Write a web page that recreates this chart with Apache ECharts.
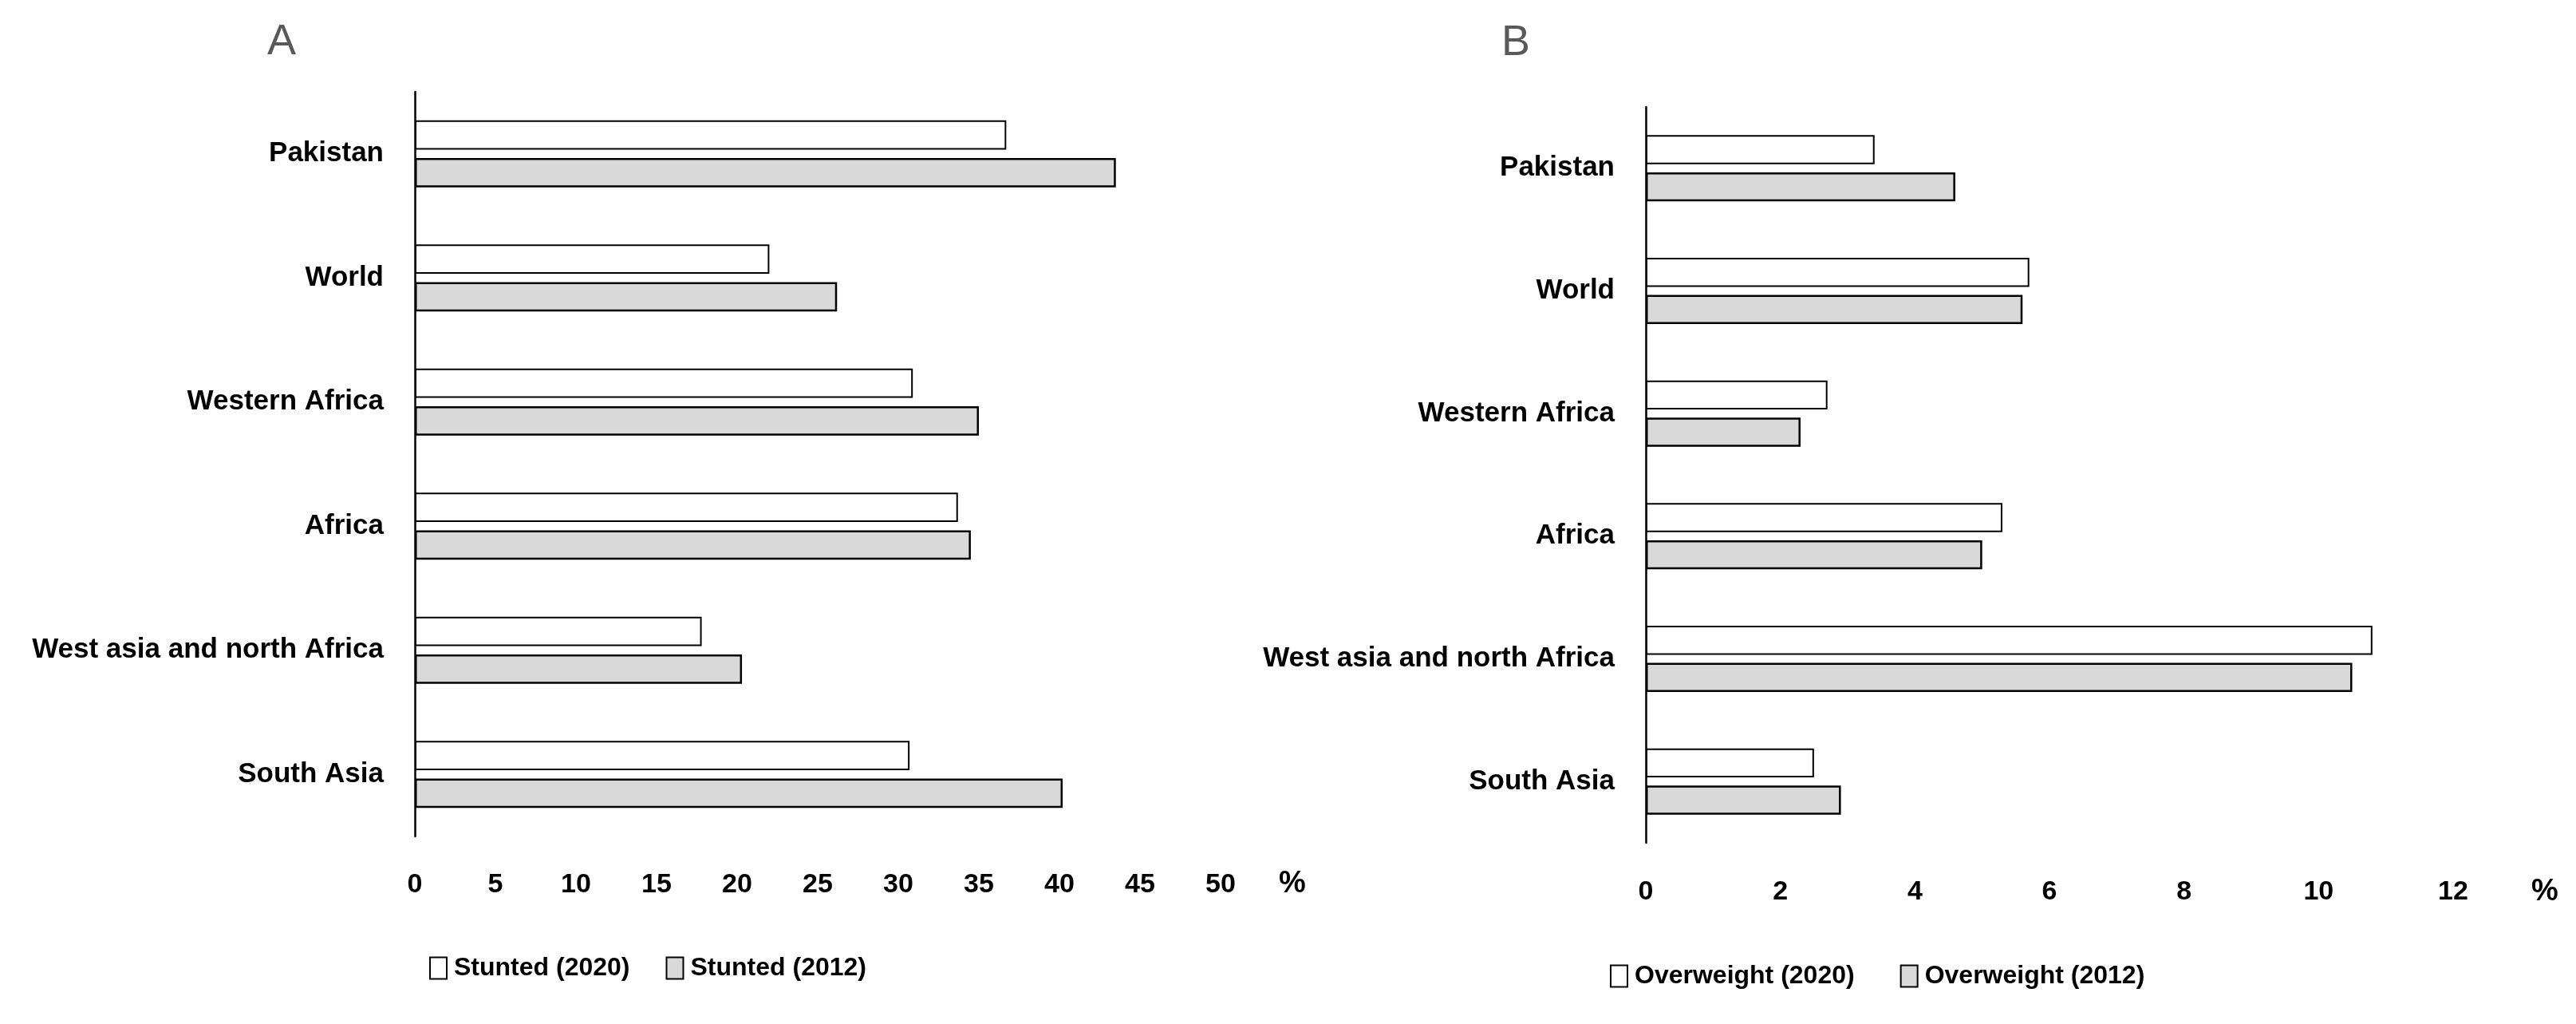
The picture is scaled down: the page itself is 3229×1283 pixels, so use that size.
<!DOCTYPE html>
<html>
<head>
<meta charset="utf-8">
<script src="https://cdn.jsdelivr.net/npm/echarts@6/dist/echarts.min.js"></script>
<style>
  html, body { margin: 0; padding: 0; background: #fff; }
  #chart { width: 3229px; height: 1283px; }
</style>
</head>
<body>
<div id="chart"></div>
<script>
const categories = ['Pakistan', 'World', 'Western Africa', 'Africa', 'West asia and north Africa', 'South Asia'];
const stunted2020 = [36.7, 22.0, 30.9, 33.7, 17.8, 30.7];
const stunted2012 = [43.5, 26.2, 35.0, 34.5, 20.3, 40.2];
const overweight2020 = [3.4, 5.7, 2.7, 5.3, 10.8, 2.5];
const overweight2012 = [4.6, 5.6, 2.3, 5.0, 10.5, 2.9];
const ticksA = [0, 5, 10, 15, 20, 25, 30, 35, 40, 45, 50];
const ticksB = [0, 2, 4, 6, 8, 10, 12];
const seriesNamesA = ['Stunted (2020)', 'Stunted (2012)'];
const seriesNamesB = ['Overweight (2020)', 'Overweight (2012)'];
const panelLabels = ['A', 'B'];
const unitLabel = '%';

const FONT = "'Liberation Sans', Arial, sans-serif";

const chart = echarts.init(document.getElementById('chart'), null, { renderer: 'canvas' });

const style2020 = { color: '#ffffff', borderColor: '#000000', borderWidth: 2 };
const style2012 = { color: '#d9d9d9', borderColor: '#000000', borderWidth: 2.5 };

function xAxisFor(ticks, gridIndex, margin) {
  return {
    type: 'value', gridIndex: gridIndex,
    min: ticks[0], max: ticks[ticks.length - 1], interval: ticks[1] - ticks[0],
    axisLine: { show: false }, axisTick: { show: false }, splitLine: { show: false },
    axisLabel: { margin: margin, fontSize: 34, fontWeight: 'bold', color: '#000', fontFamily: FONT }
  };
}
function yAxisFor(gridIndex) {
  return {
    type: 'category', gridIndex: gridIndex, data: categories, inverse: true,
    axisLine: { show: true, lineStyle: { color: '#000', width: 2.5 } },
    axisTick: { show: false },
    axisLabel: { margin: 39, fontSize: 35, fontWeight: 'bold', color: '#000', fontFamily: FONT }
  };
}
function legendFor(names, left, top, gap) {
  return {
    left: left, top: top, orient: 'horizontal', padding: 0,
    itemWidth: 21, itemHeight: 27, itemGap: gap,
    icon: 'rect',
    data: [
      { name: names[0], itemStyle: { color: '#fff', borderColor: '#000', borderWidth: 2 } },
      { name: names[1], itemStyle: { color: '#d9d9d9', borderColor: '#000', borderWidth: 2 } }
    ],
    textStyle: { fontSize: 32, fontWeight: 'bold', color: '#000', fontFamily: FONT, padding: [0, 0, 0, 4] }
  };
}

const option = {
  backgroundColor: '#ffffff',
  animation: false,
  grid: [
    { left: 520, right: 1699, top: 115, bottom: 235, containLabel: false },
    { left: 2063, right: 154, top: 134, bottom: 227, containLabel: false }
  ],
  xAxis: [xAxisFor(ticksA, 0, 44), xAxisFor(ticksB, 1, 45)],
  yAxis: [yAxisFor(0), yAxisFor(1)],
  legend: [legendFor(seriesNamesA, 538, 1197, 45), legendFor(seriesNamesB, 2018, 1207, 57)],
  series: [
    { name: seriesNamesA[0], type: 'bar', xAxisIndex: 0, yAxisIndex: 0, data: stunted2020,
      itemStyle: style2020, barGap: '28%', barCategoryGap: '46%' },
    { name: seriesNamesA[1], type: 'bar', xAxisIndex: 0, yAxisIndex: 0, data: stunted2012,
      itemStyle: style2012, barGap: '28%', barCategoryGap: '46%' },
    { name: seriesNamesB[0], type: 'bar', xAxisIndex: 1, yAxisIndex: 1, data: overweight2020,
      itemStyle: style2020, barGap: '28%', barCategoryGap: '46%' },
    { name: seriesNamesB[1], type: 'bar', xAxisIndex: 1, yAxisIndex: 1, data: overweight2012,
      itemStyle: style2012, barGap: '28%', barCategoryGap: '46%' }
  ],
  graphic: [
    { type: 'text', x: 353, y: 53, style: { text: panelLabels[0], font: "normal 54px " + FONT, fill: '#595959', align: 'center', verticalAlign: 'middle' } },
    { type: 'text', x: 1900, y: 54, style: { text: panelLabels[1], font: "normal 54px " + FONT, fill: '#595959', align: 'center', verticalAlign: 'middle' } },
    { type: 'text', x: 1620, y: 1108, style: { text: unitLabel, font: "bold 38px " + FONT, fill: '#000', align: 'center', verticalAlign: 'middle' } },
    { type: 'text', x: 3190, y: 1118, style: { text: unitLabel, font: "bold 38px " + FONT, fill: '#000', align: 'center', verticalAlign: 'middle' } }
  ]
};
chart.setOption(option);
</script>
</body>
</html>
